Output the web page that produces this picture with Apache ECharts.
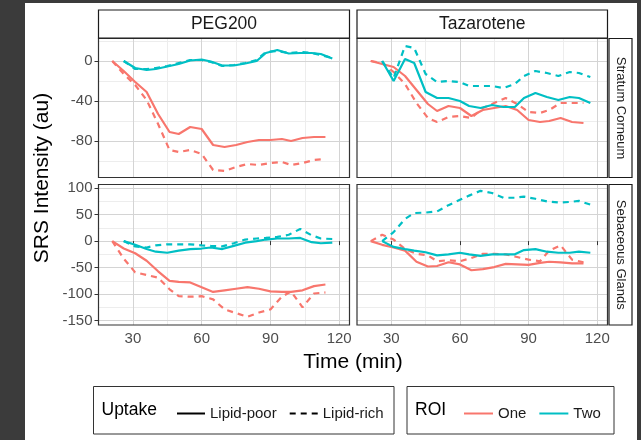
<!DOCTYPE html>
<html>
<head>
<meta charset="utf-8">
<script src="https://cdn.jsdelivr.net/npm/echarts@6/dist/echarts.min.js"></script>
<style>
html, body { margin: 0; padding: 0; background: #fff; }
#chart { width: 641px; height: 440px; }
</style>
</head>
<body>
<div id="chart"></div>
<script>
// time points (min) per ROI
var timesOne = [21, 26, 31, 36, 41, 46, 50, 55, 60, 65, 70, 75, 80, 85, 90, 95, 99, 104, 109, 114];
var timesTwo = [26, 31, 36, 40, 45, 50, 55, 60, 64, 69, 74, 79, 84, 88, 93, 98, 103, 108, 112, 117];

// PEG200 - Stratum Corneum
var pegScOnePoor = [0, -10, -21, -31, -53, -71, -73, -66, -68, -84, -86, -84, -81, -79, -79, -78, -80, -77, -76, -76];
var pegScOneRich = [0, -13, -24, -39, -63, -89, -91, -89, -93, -109, -110, -106, -103, -104, -102, -101, -104, -102, -99, -98];
var pegScTwoPoor = [0, -7, -9, -8, -5.5, -3, 0.5, 1.5, -0.5, -4.5, -4.5, -2.5, 0, 8, 11, 7.5, 8, 8, 7, 2.5];
var pegScTwoRich = [0, -8, -8, -7, -5, -2, 1, 1, -1, -5, -4, -2, 1, 9, 10, 8, 9, 8, 6, 3];

// Tazarotene - Stratum Corneum
var tazScOnePoor = [0, -3, -6, -15, -29, -43, -50, -45, -47, -55, -49, -47, -45, -49, -59, -61, -60, -57, -61, -62];
var tazScOneRich = [0, -2, -11, -23, -42, -57, -61, -56, -55, -57, -47, -42, -37, -43, -51, -52, -49, -42, -42, -42];
var tazScTwoPoor = [0, -20, 2, -2, -31, -37, -37, -40, -45, -47, -44, -46, -46, -37, -32, -36, -39, -36, -37, -42];
var tazScTwoRich = [0, -17, 15, 13, -13, -21, -20, -21, -25, -25, -25, -27, -23, -15, -10, -12, -15, -11, -12, -16];

// PEG200 - Sebaceous Glands
var pegSgOnePoor = [0, -14, -23, -37, -57, -75, -77, -78, -87, -96, -93, -90, -87, -90, -95, -96, -96, -93, -85, -82];
var pegSgOneRich = [0, -33, -59, -64, -69, -91, -104, -105, -104, -110, -129, -136, -143, -135, -129, -105, -95, -125, -99, -97];
var pegSgTwoPoor = [0, -7, -15, -20, -22, -18, -15, -14, -12, -15, -9, -3, 0, 3, 5, 5, 6, -2, -4, -3];
var pegSgTwoRich = [0, -10, -12, -8, -6, -6, -6, -8, -9, -10, -4, 3, 5, 6, 8, 12, 23, 11, 5, 4];

// Tazarotene - Sebaceous Glands
var tazSgOnePoor = [0, -7, -12, -18, -39, -48, -47, -40, -44, -55, -53, -49, -43, -44, -45, -41, -39, -40, -42, -42];
var tazSgOneRich = [0, 12, 3, -15, -24, -27, -38, -36, -38, -32, -24, -24, -25, -30, -35, -38, -18, -8, -35, -40];
var tazSgTwoPoor = [0, -11, -15, -18, -21, -27, -25, -22, -25, -28, -25, -25, -25, -17, -15, -20, -22, -22, -20, -22];
var tazSgTwoRich = [0, 17, 42, 53, 54, 56, 68, 78, 86, 95, 91, 82, 82, 84, 80, 75, 73, 74, 76, 69];

// breaks
var xMajor = [30, 60, 90, 120];
var xMinor = [45, 75, 105];
var yMajorTop = [-80, -40, 0];
var yMinorTop = [-100, -60, -20, 20];
var yMajorBot = [-150, -100, -50, 0, 50, 100];
var yMinorBot = [-125, -75, -25, 25, 75];

var drugs = ['PEG200', 'Tazarotene'];
var regions = ['Stratum Corneum', 'Sebaceous Glands'];
var uptakes = ['Lipid-poor', 'Lipid-rich'];
var rois = ['One', 'Two'];

var FONT = 'Liberation Sans, Arial, sans-serif';
var roiColor = { One: '#F8766D', Two: '#00BFC4' };

// panel order: top-left, top-right, bottom-left, bottom-right
var panels = [
    { one: [pegScOnePoor, pegScOneRich], two: [pegScTwoPoor, pegScTwoRich] },
    { one: [tazScOnePoor, tazScOneRich], two: [tazScTwoPoor, tazScTwoRich] },
    { one: [pegSgOnePoor, pegSgOneRich], two: [pegSgTwoPoor, pegSgTwoRich] },
    { one: [tazSgOnePoor, tazSgOneRich], two: [tazSgTwoPoor, tazSgTwoRich] }
];

var colLeft = [98.5, 357];
var colWidth = [251, 250.5];
var rowTop = [38.5, 184.5];
var rowHeight = [139, 140.5];
var rowRange = [[-116.5, 22.5], [-158.5, 107]];

var grids = [], xAxes = [], yAxes = [], series = [];

function zip(times, vals) {
    return vals.map(function (v, i) { return [times[i], v]; });
}

var majorLine = { color: '#d4d4d4', width: 1, type: 'solid' };
var minorLine = { color: '#ededed', width: 1, type: 'solid' };

for (var p = 0; p < 4; p++) {
    var row = Math.floor(p / 2), col = p % 2;
    grids.push({
        left: colLeft[col], top: rowTop[row], width: colWidth[col], height: rowHeight[row],
        show: true, backgroundColor: 'transparent', borderColor: '#333', borderWidth: 1.2
    });
    xAxes.push({
        type: 'value', gridIndex: p, min: 15, max: 124.5,
        axisLine: { show: false },
        splitLine: { show: false },
        axisTick: { show: row === 1, customValues: xMajor, length: 4, lineStyle: { color: '#333' } },
        axisLabel: { show: row === 1, customValues: xMajor, color: '#4d4d4d', fontSize: 15, fontFamily: FONT, margin: 6 }
    });
    var yMaj = row === 0 ? yMajorTop : yMajorBot;
    var yMin = row === 0 ? yMinorTop : yMinorBot;
    yAxes.push({
        type: 'value', gridIndex: p, min: rowRange[row][0], max: rowRange[row][1],
        axisLine: { show: false },
        splitLine: { show: false },
        axisTick: { show: col === 0, customValues: yMaj, length: 4, lineStyle: { color: '#333' } },
        axisLabel: { show: col === 0, customValues: yMaj, color: '#4d4d4d', fontSize: 15, fontFamily: FONT, margin: 6 }
    });

    // panel grid lines through the axes' own scales
    var lines = [];
    xMinor.forEach(function (v) { lines.push({ xAxis: v, lineStyle: minorLine }); });
    yMin.forEach(function (v) { lines.push({ yAxis: v, lineStyle: minorLine }); });
    xMajor.forEach(function (v) { lines.push({ xAxis: v, lineStyle: majorLine }); });
    yMaj.forEach(function (v) { lines.push({ yAxis: v, lineStyle: majorLine }); });
    series.push({
        type: 'line', name: 'grid' + p, xAxisIndex: p, yAxisIndex: p, data: [], z: -1, silent: true,
        markLine: { symbol: ['none', 'none'], silent: true, z: -1, label: { show: false },
            lineStyle: { type: 'solid' }, emphasis: { disabled: true }, data: lines }
    });

    [['One', timesOne, panels[p].one], ['Two', timesTwo, panels[p].two]].forEach(function (g) {
        g[2].forEach(function (vals, k) {
            series.push({
                type: 'line', name: g[0] + ' ' + uptakes[k] + ' ' + p,
                xAxisIndex: p, yAxisIndex: p,
                symbol: 'none', showSymbol: false, clip: true,
                lineStyle: { color: roiColor[g[0]], width: 2.2, type: k === 0 ? 'solid' : [6, 5] },
                emphasis: { disabled: true },
                data: zip(g[1], vals)
            });
        });
    });
}

// empty series used only for legend keys
series.push({ type: 'line', name: 'Lipid-poor', data: [], symbol: 'none', color: '#000', lineStyle: { color: '#000', width: 2.2, type: 'solid' } });
series.push({ type: 'line', name: 'Lipid-rich', data: [], symbol: 'none', color: '#000', lineStyle: { color: '#000', width: 2.2, type: [6, 5] } });
series.push({ type: 'line', name: 'One', data: [], symbol: 'none', color: roiColor.One, lineStyle: { color: roiColor.One, width: 2.2 } });
series.push({ type: 'line', name: 'Two', data: [], symbol: 'none', color: roiColor.Two, lineStyle: { color: roiColor.Two, width: 2.2 } });

var graphics = [
    // dark frame
    { type: 'rect', shape: { x: 0, y: 0, width: 25, height: 440 }, style: { fill: '#3b3b3b' } },
    { type: 'rect', shape: { x: 0, y: 0, width: 641, height: 3 }, style: { fill: '#3b3b3b' } },
    { type: 'rect', shape: { x: 637, y: 0, width: 4, height: 440 }, style: { fill: '#3b3b3b' } }
];
// column strips
drugs.forEach(function (d, c) {
    graphics.push({ type: 'rect', shape: { x: colLeft[c], y: 10, width: colWidth[c], height: 28 },
        style: { fill: '#fff', stroke: '#1a1a1a', lineWidth: 1.2 } });
    graphics.push({ type: 'text', x: colLeft[c] + colWidth[c] / 2, y: 24.5,
        style: { text: d, fill: '#1a1a1a', font: '17.5px ' + FONT, align: 'center', verticalAlign: 'middle' } });
});
// row strips
regions.forEach(function (r, i) {
    graphics.push({ type: 'rect', shape: { x: 609, y: rowTop[i], width: 23, height: rowHeight[i] },
        style: { fill: '#fff', stroke: '#1a1a1a', lineWidth: 1.2 } });
    graphics.push({ type: 'text', x: 620.5, y: rowTop[i] + rowHeight[i] / 2, rotation: -Math.PI / 2,
        style: { text: r, fill: '#1a1a1a', font: '13px ' + FONT, align: 'center', verticalAlign: 'middle' } });
});
// axis titles
graphics.push({ type: 'text', x: 42, y: 178, rotation: Math.PI / 2,
    style: { text: 'SRS Intensity (au)', fill: '#000', font: '21px ' + FONT, align: 'center', verticalAlign: 'middle' } });
graphics.push({ type: 'text', x: 353, y: 362,
    style: { text: 'Time (min)', fill: '#000', font: '21px ' + FONT, align: 'center', verticalAlign: 'middle' } });
// legend boxes and titles
graphics.push({ type: 'rect', shape: { x: 93.5, y: 386.5, width: 300.5, height: 47.5 },
    style: { fill: '#fff', stroke: '#333', lineWidth: 1 }, z: 0 });
graphics.push({ type: 'rect', shape: { x: 407, y: 386.5, width: 207, height: 47.5 },
    style: { fill: '#fff', stroke: '#333', lineWidth: 1 }, z: 0 });
graphics.push({ type: 'text', x: 101.5, y: 410.5,
    style: { text: 'Uptake', fill: '#000', font: '17.5px ' + FONT, align: 'left', verticalAlign: 'middle' } });
graphics.push({ type: 'text', x: 415, y: 410.5,
    style: { text: 'ROI', fill: '#000', font: '17.5px ' + FONT, align: 'left', verticalAlign: 'middle' } });

var legendText = { fontSize: 15, color: '#1a1a1a', fontFamily: FONT };

var chart = echarts.init(document.getElementById('chart'));
chart.setOption({
    animation: false,
    backgroundColor: '#fff',
    grid: grids,
    xAxis: xAxes,
    yAxis: yAxes,
    legend: [
        { data: uptakes, left: 171, top: 401, itemWidth: 28, itemHeight: 16, itemGap: 12,
          selectedMode: false, textStyle: legendText, itemStyle: { opacity: 0 }, z: 10 },
        { data: rois, left: 458, top: 401, itemWidth: 29, itemHeight: 16, itemGap: 12,
          selectedMode: false, textStyle: legendText, itemStyle: { opacity: 0 }, z: 10 }
    ],
    graphic: graphics,
    series: series
});
</script>
</body>
</html>
